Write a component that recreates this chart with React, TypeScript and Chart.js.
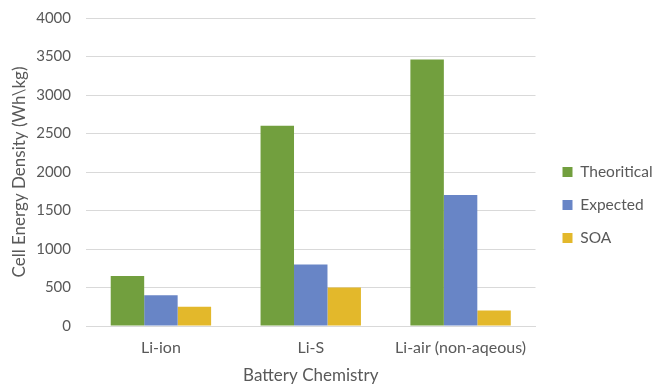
import React, { useEffect, useRef } from "react";
import { Chart, registerables } from "chart.js";

Chart.register(...registerables);

const categories = ["Li-ion", "Li-S", "Li-air (non-aqeous)"];
const theoritical = [650, 2600, 3460];
const expected = [400, 800, 1700];
const soa = [250, 500, 200];
const seriesNames = ["Theoritical", "Expected", "SOA"];
const seriesColors = ["#729F3E", "#6885C6", "#E3B82B"];

const FONT = "Lato, 'Open Sans', sans-serif";
const TEXT = "#595959";

export default function App() {
  const ref = useRef<HTMLCanvasElement | null>(null);

  useEffect(() => {
    if (!ref.current) return;
    const chart = new Chart(ref.current, {
      type: "bar",
      data: {
        labels: categories,
        datasets: [theoritical, expected, soa].map((d, i) => ({
          label: seriesNames[i],
          data: d,
          backgroundColor: seriesColors[i],
          borderWidth: 0,
          categoryPercentage: 0.67,
          barPercentage: 1.0,
          yAxisID: "y",
        })),
      },
      options: {
        animation: false,
        responsive: false,
        maintainAspectRatio: false,
        layout: { padding: { top: 18, left: 0, right: 0, bottom: 0 } },
        plugins: {
          legend: {
            position: "right",
            title: {
              display: true,
              text: "",
              font: { size: 1 },
              padding: { top: 0, bottom: 6.8 },
            },
            labels: {
              boxWidth: 10,
              boxHeight: 10,
              padding: 17.5,
              color: TEXT,
              font: { family: FONT, size: 15.5 },
            },
          },
          tooltip: { enabled: false },
        },
        scales: {
          x: {
            grid: { display: false, drawTicks: false },
            border: { display: true, color: "#D9D9D9" },
            ticks: {
              color: TEXT,
              font: { family: FONT, size: 16 },
              padding: 12,
              maxRotation: 0,
              minRotation: 0,
              autoSkip: false,
            },
            title: {
              display: true,
              text: "Battery Chemistry",
              color: TEXT,
              font: { family: FONT, size: 17 },
              padding: { top: 7, bottom: -2 },
            },
            afterFit: (s: any) => {
              s.height = 58;
            },
          },
          y: {
            min: 0,
            max: 4000,
            grid: { color: "#D9D9D9", drawTicks: false },
            border: { display: false },
            ticks: {
              stepSize: 500,
              color: TEXT,
              font: { family: FONT, size: 15 },
              padding: 15,
              callback: (v: any) => String(v),
            },
            title: {
              display: true,
              text: "Cell Energy Density (Wh\\kg)",
              color: TEXT,
              font: { family: FONT, size: 17 },
              padding: { top: 9, bottom: 4 },
            },
            afterFit: (s: any) => {
              s.width = 86;
              s.paddingTop = 0;
            },
          },
          gap: {
            type: "linear",
            position: "right",
            display: true,
            grid: { display: false, drawTicks: false },
            border: { display: false },
            ticks: { display: false },
            afterFit: (s: any) => {
              s.width = 9.5;
            },
          },
        },
      },
    });
    return () => chart.destroy();
  }, []);

  return (
    <div style={{ position: "fixed", left: 0, top: 0, width: 654, height: 384, background: "#fff" }}>
      <canvas ref={ref} width={654} height={384} style={{ width: 654, height: 384 }} />
    </div>
  );
}
